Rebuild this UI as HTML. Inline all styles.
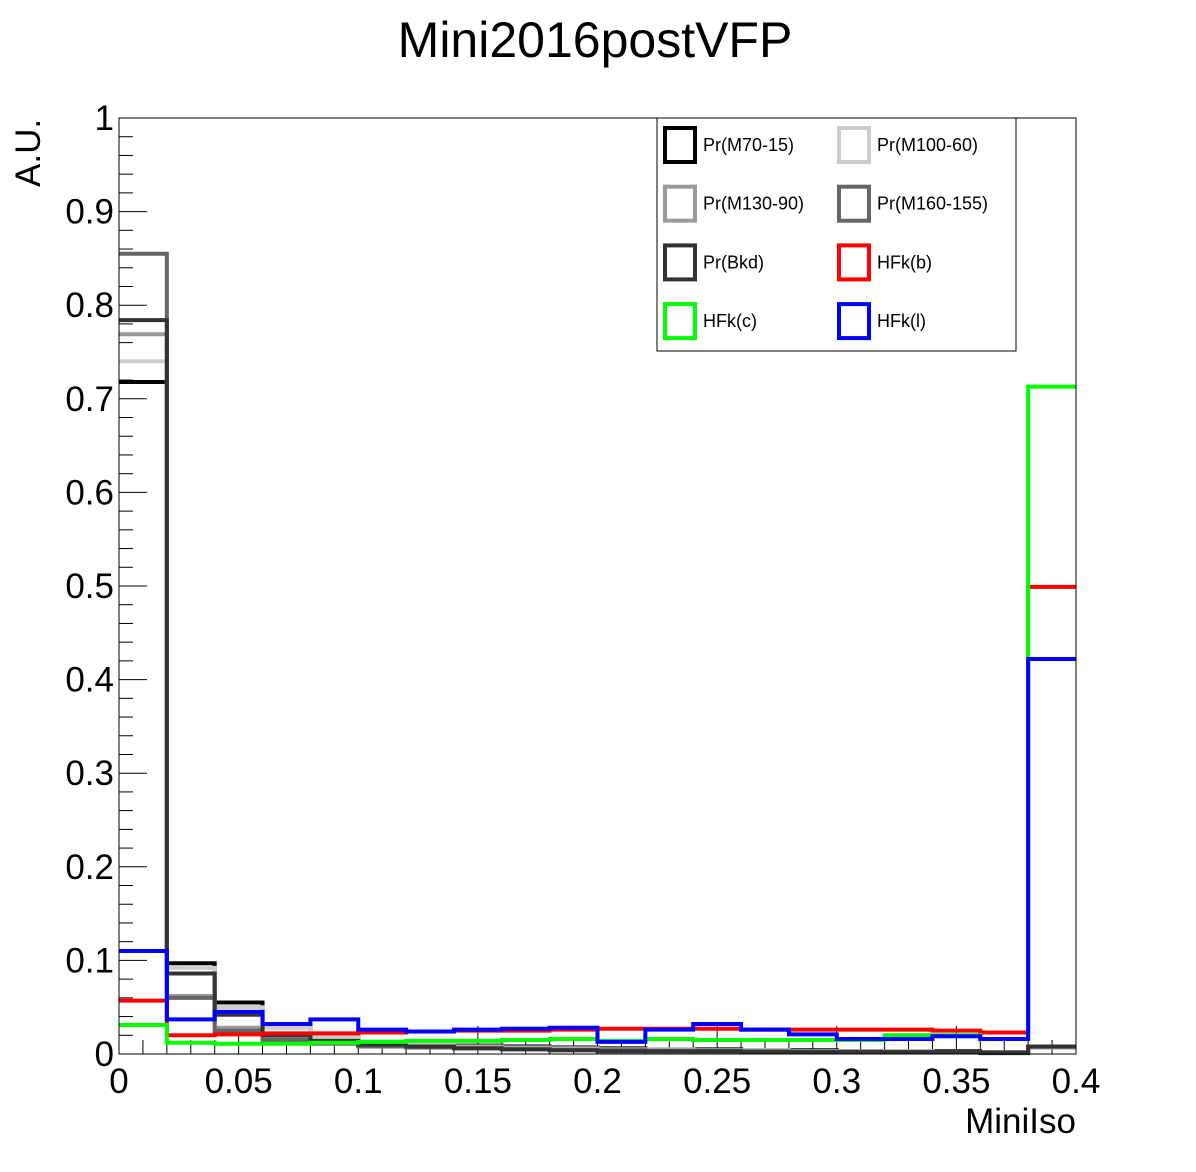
<!DOCTYPE html>
<html><head><meta charset="utf-8"><style>
html,body{margin:0;padding:0;background:#fff;}
svg{display:block;font-family:"Liberation Sans",sans-serif;}
</style></head><body>
<svg id="chart" width="1196" height="1172" viewBox="0 0 1196 1172">
<rect width="1196" height="1172" fill="#fff"/>
<text x="595" y="57" font-size="50" text-anchor="middle">Mini2016postVFP</text>
<g id="axes"></g>
<g id="series"></g>
<rect x="119" y="118" width="957" height="936" fill="none" stroke="#000" stroke-width="1"/>
<text x="1076" y="1133" font-size="35" text-anchor="end">MiniIso</text>
<text transform="translate(40,187) rotate(-90)" font-size="35" text-anchor="start">A.U.</text>
<g id="legend">
<rect x="657" y="118" width="359" height="233" fill="#fff" stroke="#000" stroke-width="1"/>
</g>
</svg>
<script>
const binEdges=[0,0.02,0.04,0.06,0.08,0.1,0.12,0.14,0.16,0.18,0.2,0.22,0.24,0.26,0.28,0.3,0.32,0.34,0.36,0.38,0.4];
const xTicks=[0,0.05,0.1,0.15,0.2,0.25,0.3,0.35,0.4];
const xTickLabels=["0","0.05","0.1","0.15","0.2","0.25","0.3","0.35","0.4"];
const yTicks=[0,0.1,0.2,0.3,0.4,0.5,0.6,0.7,0.8,0.9,1];
const yTickLabels=["0","0.1","0.2","0.3","0.4","0.5","0.6","0.7","0.8","0.9","1"];
const seriesNames=["Pr(M70-15)","Pr(M100-60)","Pr(M130-90)","Pr(M160-155)","Pr(Bkd)","HFk(b)","HFk(c)","HFk(l)"];
const seriesColors=["#000000","#cccccc","#999999","#666666","#333333","#ff0000","#00ff00","#0000ff"];
const prM70=[0.718,0.097,0.055,0.030,0.020,0.013,0.011,0.009,0.008,0.007,0.006,0.005,0.005,0.004,0.004,0.003,0.003,0.003,0.002,0.008];
const prM100=[0.740,0.092,0.050,0.028,0.018,0.012,0.010,0.008,0.007,0.006,0.005,0.005,0.004,0.004,0.003,0.003,0.003,0.002,0.002,0.007];
const prM130=[0.769,0.062,0.028,0.016,0.012,0.009,0.008,0.007,0.006,0.005,0.004,0.004,0.004,0.003,0.003,0.003,0.002,0.002,0.002,0.007];
const prM160=[0.855,0.060,0.025,0.015,0.011,0.008,0.007,0.006,0.005,0.004,0.004,0.003,0.003,0.003,0.002,0.002,0.002,0.002,0.002,0.008];
const prBkd=[0.784,0.086,0.042,0.020,0.014,0.010,0.008,0.006,0.005,0.004,0.003,0.003,0.003,0.002,0.002,0.002,0.002,0.002,0.001,0.008];
const hfkB=[0.057,0.020,0.021,0.022,0.022,0.023,0.024,0.025,0.025,0.026,0.027,0.027,0.027,0.026,0.026,0.026,0.026,0.025,0.023,0.499];
const hfkC=[0.031,0.012,0.011,0.011,0.012,0.013,0.014,0.014,0.015,0.016,0.014,0.016,0.015,0.015,0.015,0.015,0.020,0.020,0.016,0.713];
const hfkL=[0.110,0.037,0.045,0.032,0.037,0.026,0.024,0.026,0.027,0.028,0.013,0.026,0.032,0.026,0.021,0.016,0.016,0.019,0.016,0.422];
const allSeries=[prM70,prM100,prM130,prM160,prBkd,hfkB,hfkC,hfkL];

const NS="http://www.w3.org/2000/svg";
const X0=119,X1=1076,Y0=1054,Y1=118;
const xs=v=>X0+(v-0)/(0.4-0)*(X1-X0);
const ys=v=>Y0-(v-0)/(1-0)*(Y0-Y1);
function mk(tag,attrs,parent){const e=document.createElementNS(NS,tag);for(const k in attrs)e.setAttribute(k,attrs[k]);parent.appendChild(e);return e;}
const axes=document.getElementById('axes');
for(let i=0;i<=40;i++){const v=i*0.01;const major=i%5===0;
 const t=mk('line',{x1:xs(v),x2:xs(v),y1:Y0,y2:Y0-(major?28:14),stroke:'#000','stroke-width':1},axes);
 
 }
for(let i=0;i<=50;i++){const v=i*0.02;const major=i%5===0;
 const t=mk('line',{x1:X0,x2:X0+(major?28:14),y1:ys(v),y2:ys(v),stroke:'#000','stroke-width':1},axes);
 
 }
xTicks.forEach((v,i)=>{const t=mk('text',{x:xs(v),y:1093,'font-size':35,'text-anchor':'middle'},axes);t.textContent=xTickLabels[i];
 
 });
yTicks.forEach((v,i)=>{const t=mk('text',{x:114,y:ys(v)+12,'font-size':35,'text-anchor':'end'},axes);t.textContent=yTickLabels[i];
 
 });
const sg=document.getElementById('series');
allSeries.forEach((vals,si)=>{
 let d='';
 vals.forEach((v,i)=>{d+=(i===0?'M':' L')+xs(binEdges[i])+','+ys(v)+' L'+xs(binEdges[i+1])+','+ys(v);});
 const p=mk('path',{d:d,fill:'none',stroke:seriesColors[si],'stroke-width':4},sg);
 
 
});
const lg=document.getElementById('legend');
seriesNames.forEach((n,i)=>{const col=i%2,row=Math.floor(i/2);
 const bx=col?837:663, cy=145+row*58.7;
 const g=mk('g',{},lg);
 
 
 mk('rect',{x:bx+2,y:cy-17,width:30,height:34,fill:'none',stroke:seriesColors[i],'stroke-width':4},g);
 const t=mk('text',{x:bx+40,y:cy+6,'font-size':18},g);t.textContent=n;});
</script>
</body></html>
